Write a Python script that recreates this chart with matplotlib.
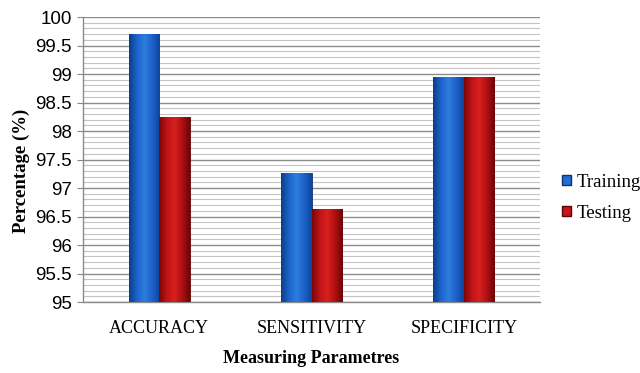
import numpy as np
import matplotlib
matplotlib.use("Agg")
import matplotlib.pyplot as plt
from matplotlib.colors import LinearSegmentedColormap
from matplotlib.patches import Patch

categories = ["ACCURACY", "SENSITIVITY", "SPECIFICITY"]
training = [99.71, 97.26, 98.94]
testing = [98.24, 96.63, 98.94]
series_names = ["Training", "Testing"]
yticks = [95, 95.5, 96, 96.5, 97, 97.5, 98, 98.5, 99, 99.5, 100]

fig = plt.figure(figsize=(6.4, 3.73), dpi=100)
ax = fig.add_axes([0.1297, 0.1903, 0.7141, 0.7641])

x = np.arange(len(categories))
w = 0.2
base = 95

blue_cmap = LinearSegmentedColormap.from_list("b", ["#0b3d8c", "#1c63c8", "#2f7de0", "#1c63c8", "#0c45a0"])
red_cmap = LinearSegmentedColormap.from_list("r", ["#7a0608", "#c01416", "#d8201f", "#b01012", "#6e0507"])

def shaded(bars, cmap, edge):
    for b in bars:
        bx, by = b.get_x(), b.get_y()
        bw, bh = b.get_width(), b.get_height()
        grad = np.linspace(0, 1, 64).reshape(1, -1)
        im = ax.imshow(grad, cmap=cmap, aspect="auto",
                       extent=[bx, bx + bw, by, by + bh], zorder=3)
        im.set_clip_path(b)
        b.set_edgecolor(edge)
        b.set_linewidth(0.6)

b1 = ax.bar(x - w / 2, np.array(training) - base, w, bottom=base,
            color="#1f6fd6", label=series_names[0], zorder=2)
b2 = ax.bar(x + w / 2, np.array(testing) - base, w, bottom=base,
            color="#c8141a", label=series_names[1], zorder=2)
shaded(b1, blue_cmap, "#0b3470")
shaded(b2, red_cmap, "#5a0406")

ax.set_xlim(-0.5, 2.5)
ax.set_ylim(95, 100)
ax.set_yticks(yticks)
ax.set_yticklabels([f"{t:g}" for t in yticks], fontfamily="Liberation Sans", fontsize=13.5)
ax.set_yticks(np.arange(95, 100.01, 0.1), minor=True)
ax.yaxis.grid(True, which="minor", color="#c4c4c4", linewidth=0.8, zorder=0)
ax.yaxis.grid(True, which="major", color="#8c8c8c", linewidth=1.0, zorder=0)
ax.set_axisbelow(True)
ax.tick_params(axis="y", which="major", length=4, color="#888888", pad=4)
ax.tick_params(axis="y", which="minor", length=0)
ax.set_xticks(x)
ax.set_xticklabels(categories, fontfamily="Liberation Serif", fontsize=13)
ax.tick_params(axis="x", length=0, pad=13)

for s in ["top", "right"]:
    ax.spines[s].set_visible(False)
for s in ["left", "bottom"]:
    ax.spines[s].set_color("#8c8c8c")
    ax.spines[s].set_linewidth(1.0)

ax.set_ylabel("Percentage (%)", fontfamily="Liberation Serif", fontweight="bold",
              fontsize=13.5)
ax.yaxis.set_label_coords(-0.115, 0.46)
ax.set_xlabel("Measuring Parametres", fontfamily="Liberation Serif", fontweight="bold",
              fontsize=13, labelpad=9)

handles = [Patch(facecolor="#1f6fd6", edgecolor="#0b3470"),
           Patch(facecolor="#c8141a", edgecolor="#5a0406")]
fig.legend(handles, series_names, loc="center left", bbox_to_anchor=(0.878, 0.47),
           frameon=False, prop={"family": "Liberation Serif", "size": 13.5},
           handlelength=0.5, handleheight=0.5, handletextpad=0.3, labelspacing=0.75,
           borderaxespad=0, borderpad=0)

fig.savefig("out.png", dpi=100)
